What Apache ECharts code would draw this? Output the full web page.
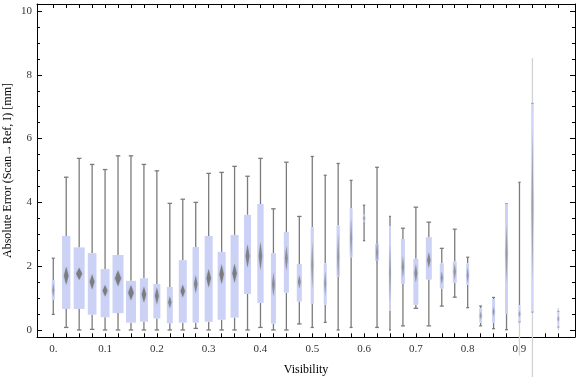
<!DOCTYPE html>
<html>
<head>
<meta charset="utf-8">
<script src="https://cdn.jsdelivr.net/npm/echarts@6/dist/echarts.min.js"></script>
<style>
  html, body { margin: 0; padding: 0; background: #fff; }
  #main { width: 576px; height: 377px; }
</style>
</head>
<body>
<div id="main"></div>
<script>
// visibility bins (one box per bin)
const bins = ['0.000','0.025','0.050','0.075','0.100','0.125','0.150','0.175','0.200','0.225',
              '0.250','0.275','0.300','0.325','0.350','0.375','0.400','0.425','0.450','0.475',
              '0.500','0.525','0.550','0.575','0.600','0.625','0.650','0.675','0.700','0.725',
              '0.750','0.775','0.800','0.825','0.850','0.875','0.900','0.925','0.950','0.975'];
const tickLabels = ['0.','','','','0.1','','','','0.2','',
                    '','','0.3','','','','0.4','','','',
                    '0.5','','','','0.6','','','','0.7','',
                    '','','0.8','','','','0.9','','',''];

// box whisker values [mm] (null = empty bin)
const whiskerLo = [0.49,0.08,0.00,0.02,0.00,0.00,0.00,0.00,0.00,0.00,
                   0.00,0.05,0.00,0.00,0.00,0.00,0.08,0.00,0.00,0.19,
                   0.08,0.24,0.00,0.08,2.80,0.08,0.00,0.13,0.68,0.13,
                   0.75,1.03,0.70,0.13,0.04,0.01,-0.80,-1.50,null,0.00];
const q1 = [0.94,0.66,0.66,0.48,0.40,0.53,0.23,0.26,0.36,0.21,
            0.23,0.23,0.26,0.32,0.39,1.13,0.85,0.20,1.17,0.89,
            0.82,0.79,1.67,2.28,3.40,2.17,0.61,1.45,0.79,1.58,
            1.30,1.48,1.42,0.23,0.23,0.50,0.26,0.57,null,0.10];
const median = [1.25,1.70,1.76,1.51,1.23,1.62,1.17,1.11,1.07,0.87,
                1.22,1.44,1.62,1.75,1.78,2.32,2.32,1.43,2.25,1.51,
                2.04,1.46,2.30,2.87,3.50,2.43,1.78,1.98,1.78,2.19,
                1.64,1.83,1.72,0.45,0.57,2.40,0.50,3.90,null,0.35];
const q3 = [1.57,2.95,2.59,2.41,1.91,2.35,1.54,1.62,1.44,1.35,
            2.19,2.60,2.95,2.45,2.98,3.61,3.95,2.41,3.07,2.07,
            3.22,2.09,3.28,3.81,3.61,2.70,3.26,2.85,2.23,2.91,
            2.09,2.15,2.09,0.68,0.97,3.95,0.78,7.10,null,0.58];
const whiskerHi = [2.25,4.79,5.38,5.19,5.03,5.46,5.46,5.19,4.99,3.97,
                   4.10,4.00,4.91,4.94,5.13,4.82,5.38,3.80,5.26,3.56,
                   5.44,4.85,5.22,4.69,3.91,5.10,3.56,3.19,3.85,3.38,
                   2.56,3.16,2.28,0.75,1.02,3.95,4.63,8.53,null,0.69];
// half height of the median diamond [mm]
const medianSpread = [0.22,0.28,0.19,0.24,0.18,0.25,0.24,0.25,0.27,0.19,
                      0.20,0.28,0.29,0.31,0.30,0.37,0.44,0.38,0.39,0.21,
                      0.73,0.39,0.73,0.63,0.10,0.37,0.90,0.34,0.29,0.25,
                      0.19,0.25,0.25,0.12,0.15,0.90,0.10,2.30,null,0.10];
// relative box width (sample size)
const boxWidth = [0.23,0.64,0.85,0.67,0.69,0.85,0.77,0.62,0.54,0.46,
                  0.62,0.49,0.62,0.62,0.62,0.54,0.49,0.39,0.39,0.39,
                  0.25,0.23,0.25,0.23,0.18,0.29,0.15,0.31,0.39,0.46,
                  0.31,0.31,0.23,0.23,0.23,0.23,0.18,0.18,null,0.15];

// whiskers drawn faint in the original
const faintLo = {36: true, 37: true, 39: true};
const faintHi = {37: true, 39: true};

const boxData = [];
for (let i = 0; i < bins.length; i++) {
    if (q1[i] == null) continue;
    boxData.push([i, whiskerLo[i], q1[i], median[i], q3[i], whiskerHi[i], medianSpread[i], boxWidth[i]]);
}

const whiskColor = '#7b7b7b';
const faintColor = '#d2d2d2';
const boxColor = '#cbd2f5';

function renderItem(params, api) {
    const i = api.value(0);
    const band = api.size([1, 0])[0];
    const w = Math.max(2, band * api.value(7));
    const x = api.coord([i, 0])[0];
    const yLo = api.coord([i, api.value(1)])[1];
    const yQ1 = api.coord([i, api.value(2)])[1];
    const yMed = api.coord([i, api.value(3)])[1];
    const yQ3 = api.coord([i, api.value(4)])[1];
    const yHi = api.coord([i, api.value(5)])[1];
    const sp = api.size([0, api.value(6)])[1];
    const capW = Math.min(4.5, w);
    const dw = Math.max(1, w * 0.28);
    // thin boxes show only a faint median streak
    const op = Math.min(0.85, 0.3 + w / 14);
    const kids = [];
    const lw = 1.3;
    kids.push({type: 'line', shape: {x1: x, y1: yQ1, x2: x, y2: yLo},
        style: {stroke: faintLo[i] ? faintColor : whiskColor, lineWidth: lw}});
    kids.push({type: 'line', shape: {x1: x, y1: yQ3, x2: x, y2: yHi},
        style: {stroke: faintHi[i] ? faintColor : whiskColor, lineWidth: lw}});
    const capLo = faintLo[i] ? yQ1 : yLo;
    const capHi = faintHi[i] ? yQ3 : yHi;
    kids.push({type: 'line', shape: {x1: x - capW / 2, y1: capLo, x2: x + capW / 2, y2: capLo},
        style: {stroke: whiskColor, lineWidth: lw}});
    kids.push({type: 'line', shape: {x1: x - capW / 2, y1: capHi, x2: x + capW / 2, y2: capHi},
        style: {stroke: whiskColor, lineWidth: lw}});
    kids.push({type: 'rect', shape: {x: x - w / 2, y: yQ3, width: w, height: yQ1 - yQ3},
        style: {fill: boxColor}});
    kids.push({type: 'polygon',
        shape: {points: [[x, yMed - sp], [x + dw, yMed], [x, yMed + sp], [x - dw, yMed]]},
        style: {fill: 'rgba(115,115,115,' + op + ')', shadowBlur: 2, shadowColor: 'rgba(120,120,120,0.5)'}});
    return {type: 'group', children: kids};
}

const fontFam = '"Liberation Serif", "DejaVu Serif", serif';
const blackLine = {color: '#000', width: 1};

// an axis that only exists so a grid has both dimensions
function hiddenAxis(gi) {
    return {gridIndex: gi, type: 'value', min: 0, max: 1, show: false};
}
// a plain frame line
function frameAxis(gi, pos) {
    return {gridIndex: gi, type: 'value', min: 0, max: 1, position: pos,
            axisLine: {show: true, onZero: false, lineStyle: blackLine},
            axisTick: {show: false}, axisLabel: {show: false}, splitLine: {show: false}};
}
function binAxis(gi, inside, withLabels) {
    return {gridIndex: gi, type: 'category', data: bins, position: 'bottom',
            offset: gi === 1 ? 7.3 : 0,
            axisLine: {show: false, onZero: false},
            axisTick: {show: true, inside: inside, alignWithLabel: true, interval: 0, length: 4,
                       lineStyle: blackLine},
            axisLabel: withLabels ? {interval: 0, margin: 6, fontFamily: fontFam, fontSize: 11, color: '#333',
                                     formatter: function (v, idx) { return tickLabels[idx]; }}
                                  : {show: false},
            splitLine: {show: false}};
}
function errAxis(gi, inside, withLabels, offset) {
    return {gridIndex: gi, type: 'value', min: 0, max: 10, interval: 2, position: 'left', offset: offset,
            axisLine: {show: false, onZero: false},
            axisTick: {show: true, inside: inside, length: 5, lineStyle: blackLine},
            minorTick: {show: true, splitNumber: 4, length: 3, lineStyle: blackLine},
            axisLabel: withLabels ? {margin: 5, fontFamily: fontFam, fontSize: 11, color: '#333'} : {show: false},
            splitLine: {show: false}};
}

const xBottomFrame = frameAxis(0, 'bottom');
xBottomFrame.name = 'Visibility';
xBottomFrame.nameLocation = 'middle';
xBottomFrame.nameGap = 33;
xBottomFrame.nameMoveOverlap = false;
xBottomFrame.nameTextStyle = {fontFamily: fontFam, fontSize: 12, color: '#000', verticalAlign: 'middle'};
const yLeftFrame = frameAxis(0, 'left');
yLeftFrame.name = 'Absolute Error (Scan\u2192Ref, I) [mm]';
yLeftFrame.nameLocation = 'middle';
yLeftFrame.nameGap = 29;
yLeftFrame.nameMoveOverlap = false;
yLeftFrame.nameTextStyle = {fontFamily: fontFam, fontSize: 12, color: '#000', verticalAlign: 'middle'};

function gridAt(g) {
    g.outerBoundsMode = 'none';
    g.containLabel = false;
    return g;
}

var myChart = echarts.init(document.getElementById('main'));
var option = {
    animation: false,
    grid: [
        gridAt({left: 37, right: 1, top: 4, bottom: 40}),          // 0 frame bottom/left
        gridAt({left: 46.8, right: 11.2, top: 11, bottom: 47}),     // 1 data
        gridAt({left: 37, right: 1, top: 0, height: 4}),            // 2 frame top line
        gridAt({left: 46.8, right: 11.2, top: 0, height: 4}),       // 3 top ticks
        gridAt({left: 575, right: 0, top: 4, bottom: 40}),          // 4 frame right line
        gridAt({left: 575, right: 0, top: 11, bottom: 47})          // 5 right ticks
    ],
    xAxis: [
        xBottomFrame,                  // 0
        binAxis(1, true, true),        // 1
        frameAxis(2, 'bottom'),        // 2
        binAxis(3, false, false),      // 3
        hiddenAxis(4),                 // 4
        hiddenAxis(5)                  // 5
    ],
    yAxis: [
        yLeftFrame,                    // 0
        errAxis(1, true, true, 9.8),   // 1
        hiddenAxis(2),                 // 2
        hiddenAxis(3),                 // 3
        frameAxis(4, 'left'),          // 4
        errAxis(5, false, false, 0)    // 5
    ],
    series: [{
        type: 'custom',
        xAxisIndex: 1,
        yAxisIndex: 1,
        clip: false,
        renderItem: renderItem,
        encode: {x: 0, y: [1, 2, 3, 4, 5]},
        data: boxData
    }]
};
myChart.setOption(option);
</script>
</body>
</html>
